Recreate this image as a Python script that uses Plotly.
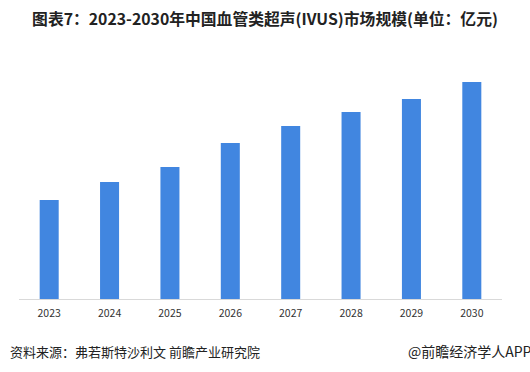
import plotly.graph_objects as go

years = ["2023", "2024", "2025", "2026", "2027", "2028", "2029", "2030"]
values = [9.9, 11.7, 13.2, 15.6, 17.3, 18.7, 20.0, 21.7]

title_text = "图表7：2023-2030年中国血管类超声(IVUS)市场规模(单位：亿元)"
source_text = "资料来源：弗若斯特沙利文 前瞻产业研究院"
brand_text = "@前瞻经济学人APP"

font_family = "Noto Sans CJK SC, Microsoft YaHei, sans-serif"

fig = go.Figure(
    go.Bar(
        x=years,
        y=values,
        marker=dict(color="#4186E0", line=dict(width=0)),
        hoverinfo="x+y",
    )
)

fig.update_layout(
    width=530,
    height=372,
    margin=dict(l=19, r=28, t=50, b=73),
    paper_bgcolor="white",
    plot_bgcolor="white",
    bargap=0.685,
    showlegend=False,
    font=dict(family=font_family, color="#333333"),
    title=dict(
        text="<b>" + title_text + "</b>",
        x=0.5,
        xanchor="center",
        y=1 - 19 / 372,
        yanchor="middle",
        font=dict(size=15.8, color="#222222", family=font_family),
    ),
    xaxis=dict(
        type="category",
        showline=True,
        linecolor="#d9d9d9",
        linewidth=1,
        ticks="",
        showgrid=False,
        tickfont=dict(size=10.5, color="#333333"),
        ticklabelstandoff=4,
    ),
    yaxis=dict(
        range=[0, 24.9],
        visible=False,
        showgrid=False,
        zeroline=False,
    ),
    annotations=[
        dict(
            text=source_text,
            xref="paper", yref="paper",
            x=-11 / 483, xanchor="left",
            y=-(351 - 299) / 249, yanchor="middle",
            showarrow=False,
            font=dict(size=13, color="#222222", family=font_family),
        ),
        dict(
            text=brand_text,
            xref="paper", yref="paper",
            x=(406 - 19) / 483, xanchor="left",
            y=-(351 - 299) / 249, yanchor="middle",
            showarrow=False,
            font=dict(size=14, color="#222222", family=font_family),
        ),
    ],
)

fig.write_html(
    "out.html",
    config={"displayModeBar": False},
    post_script="document.body.style.margin='0';",
)
